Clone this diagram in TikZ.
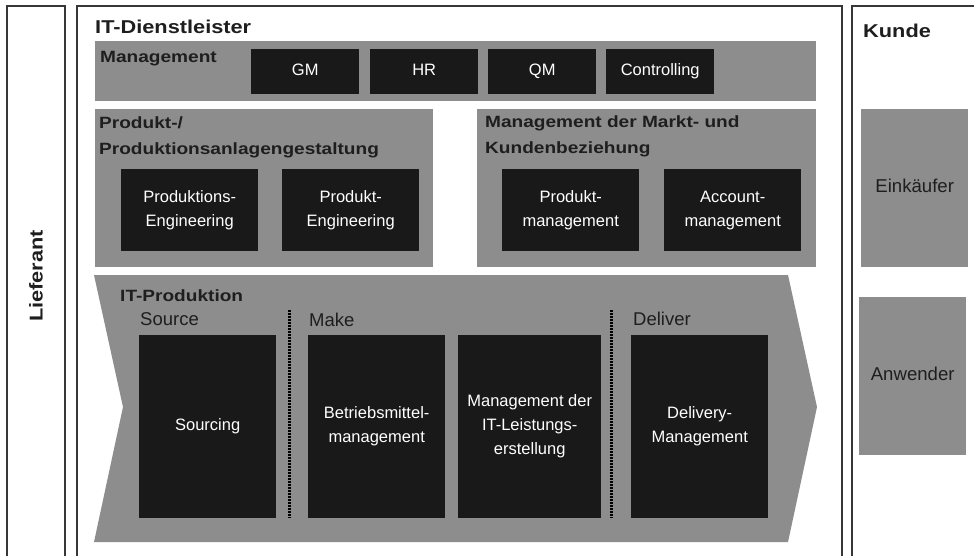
\documentclass[tikz,border=0pt]{standalone}
\usepackage{fontspec}
\setmainfont{Liberation Sans}
\newfontfamily\headfont{Liberation Sans}[FakeStretch=1.17]
\definecolor{areagray}{RGB}{141,141,141}
\definecolor{boxblack}{RGB}{25,25,25}
\definecolor{frameline}{RGB}{55,55,55}
\definecolor{inktext}{RGB}{30,30,30}

\begin{document}
\begin{tikzpicture}[x=1pt,y=-1pt,
  frame/.style={draw=frameline,line width=1.6pt},
  area/.style={fill=areagray,inner sep=0,anchor=north west},
  titletext/.style={font=\headfont\bfseries\fontsize{18.6}{24}\selectfont,text=inktext,inner sep=0,anchor=base west},
  headtext/.style={font=\headfont\bfseries\fontsize{16.3}{26}\selectfont,text=inktext,inner sep=0,anchor=base west,align=left},
  phasetext/.style={font=\fontsize{18.5}{22}\selectfont,text=inktext,inner sep=0,anchor=base west},
  darkbox/.style={fill=boxblack,text=white,font=\fontsize{16.5}{24}\selectfont,align=center,inner sep=0,anchor=north west},
  oneline/.style={text height=12pt,text depth=3.5pt},
  rolebox/.style={fill=areagray,text=inktext,font=\fontsize{18.6}{22}\selectfont,inner sep=0,anchor=north west,text height=13.5pt,text depth=4pt},
  separator/.style={line width=3pt,dash pattern=on 2pt off 1pt}
]
\fill[white] (0,0) rectangle (974,555);
\useasboundingbox (0,0) rectangle (974,555);
\clip (0,0) rectangle (974,555);

% outer columns (open towards the bottom, customer column runs off to the right)
\draw[frame] (7,6) rectangle (65,600);
\draw[frame] (77,6) rectangle (842,600);
\draw[frame] (852,6) rectangle (990,600);

\node[titletext,anchor=center,rotate=90] (lieferant) at (36,276) {Lieferant};
\node[titletext] (itdl) at (95,33) {IT-Dienstleister};
\node[titletext] (kunde) at (863,37) {Kunde};

% management row
\node[area,minimum width=721,minimum height=60] (mgmt) at (95,41) {};
\node[headtext] (mgmtlabel) at (100,62) {Management};
\node[darkbox,oneline,minimum width=108,minimum height=45] (gm) at (251,49) {GM};
\node[darkbox,oneline,minimum width=108,minimum height=45] (hr) at (370,49) {HR};
\node[darkbox,oneline,minimum width=108,minimum height=45] (qm) at (488,49) {QM};
\node[darkbox,oneline,minimum width=108,minimum height=45] (ctrl) at (606,49) {Controlling};

% product design and market relations (base anchor sits on the last line)
\node[area,minimum width=338,minimum height=158] (prodarea) at (95,109) {};
\node[headtext] (prodlabel) at (99,154) {Produkt-/\\Produktionsanlagengestaltung};
\node[darkbox,minimum width=137,minimum height=82] (prodeng) at (121,169) {Produktions-\\Engineering};
\node[darkbox,minimum width=137,minimum height=82] (prodteng) at (282,169) {Produkt-\\Engineering};

\node[area,minimum width=339,minimum height=158] (marketarea) at (477,109) {};
\node[headtext] (marketlabel) at (485,153) {Management der Markt- und\\Kundenbeziehung};
\node[darkbox,minimum width=137,minimum height=82] (prodmgmt) at (502,169) {Produkt-\\management};
\node[darkbox,minimum width=137,minimum height=82] (accmgmt) at (664,169) {Account-\\management};

% IT production chevron
\fill[areagray] (94,275) -- (788,275) -- (817,407) -- (788,542) -- (94,542) -- (123,407) -- cycle;
\node[headtext] (prodlabel2) at (120,301) {IT-Produktion};
\node[phasetext] (source) at (140,325) {Source};
\node[phasetext] (make) at (309,326) {Make};
\node[phasetext] (deliver) at (633,325) {Deliver};
\draw[separator] (289,310) -- (289,518);
\draw[separator] (611,310) -- (611,518);
\node[darkbox,oneline,minimum width=137,minimum height=183] (sourcing) at (139,335) {Sourcing};
\node[darkbox,minimum width=137,minimum height=183] (betrieb) at (308,335) {Betriebsmittel-\\management};
\node[darkbox,minimum width=143,minimum height=183] (leistung) at (458,335) {Management der\\IT-Leistungs-\\erstellung};
\node[darkbox,minimum width=137,minimum height=183] (delivery) at (631,335) {Delivery-\\Management};

% customer roles
\node[rolebox,minimum width=107,minimum height=158] (einkaeufer) at (861,109) {Einkäufer};
\node[rolebox,minimum width=107,minimum height=158] (anwender) at (859,297) {Anwender};
\end{tikzpicture}
\end{document}
